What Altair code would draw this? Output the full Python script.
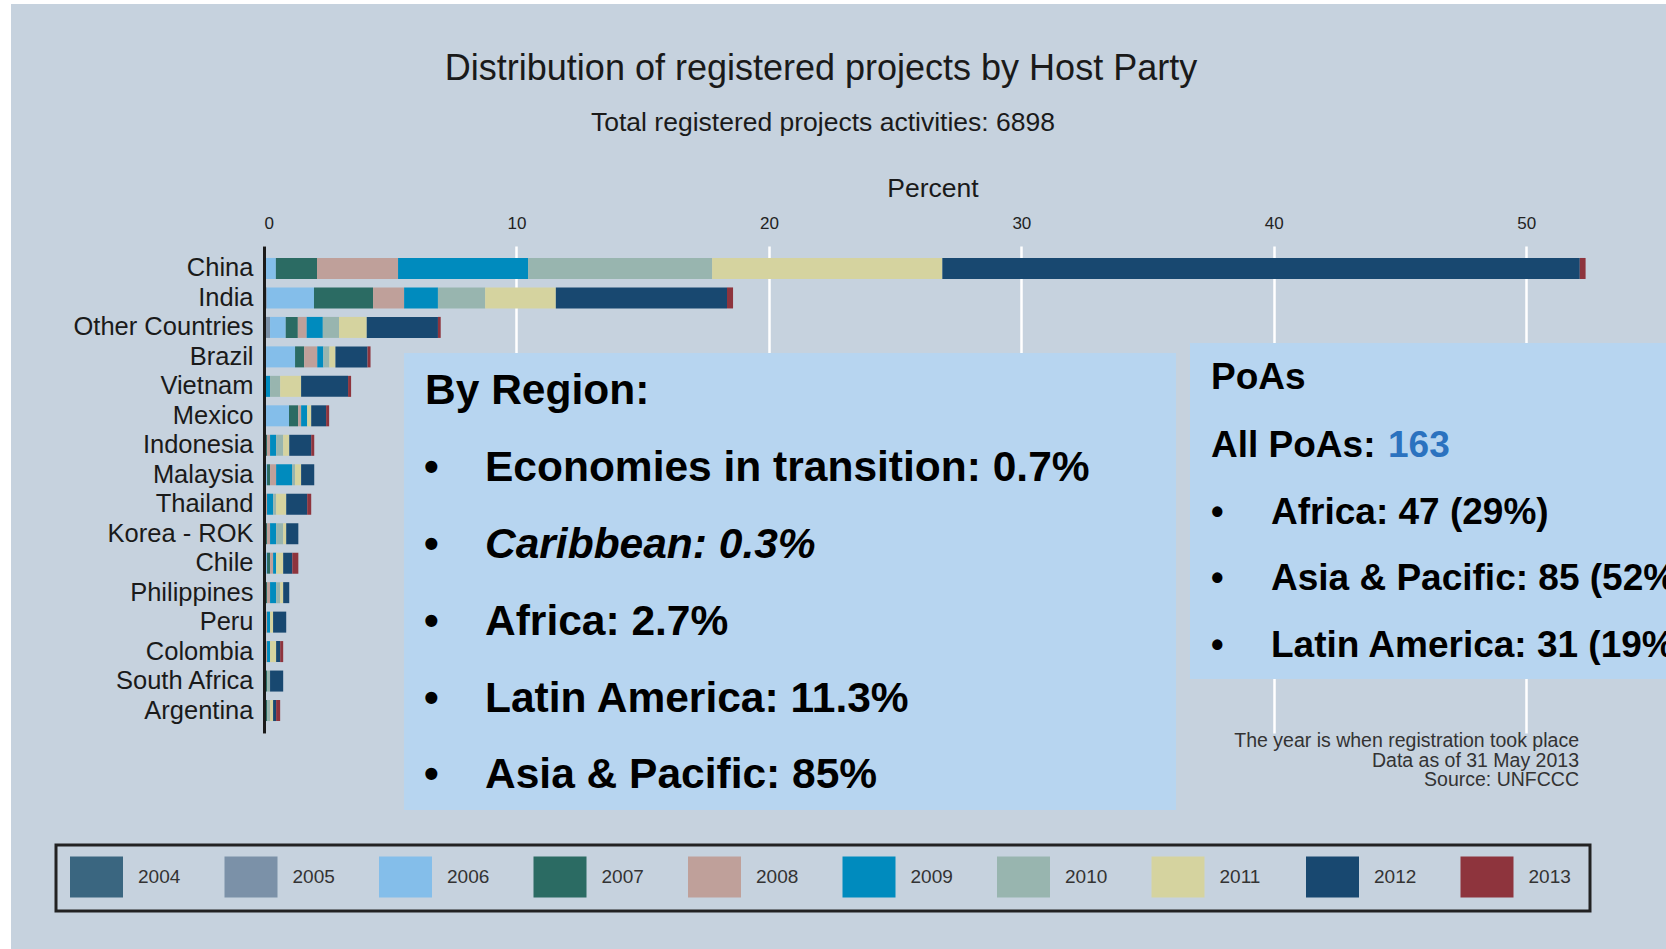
import altair as alt
import pandas as pd

countries = ["China", "India", "Other Countries", "Brazil", "Vietnam", "Mexico",
             "Indonesia", "Malaysia", "Thailand", "Korea - ROK", "Chile",
             "Philippines", "Peru", "Colombia", "South Africa", "Argentina"]
years = ["2004", "2005", "2006", "2007", "2008", "2009", "2010", "2011", "2012", "2013"]

# percent of all registered projects, by registration year
y2004 = [0, 0, 0, 0, 0, 0, 0, 0, 0, 0, 0, 0, 0, 0, 0, 0]
y2005 = [0, 0.11, 0.24, 0, 0, 0, 0, 0, 0, 0, 0, 0, 0, 0, 0, 0]
y2006 = [0.47, 1.87, 0.62, 1.23, 0, 0.99, 0, 0.12, 0, 0, 0.12, 0, 0, 0, 0, 0]
y2007 = [1.63, 2.34, 0.48, 0.36, 0, 0.36, 0.12, 0.12, 0, 0.12, 0.12, 0.12, 0, 0, 0.12, 0.12]
y2008 = [3.21, 1.23, 0.35, 0.52, 0, 0.12, 0.12, 0.24, 0.12, 0.12, 0.12, 0.12, 0.12, 0.12, 0, 0]
y2009 = [5.15, 1.34, 0.64, 0.24, 0.24, 0.24, 0.24, 0.63, 0.24, 0.24, 0.12, 0.24, 0.12, 0.12, 0, 0]
y2010 = [7.29, 1.87, 0.64, 0.24, 0.40, 0, 0.28, 0.12, 0.12, 0.28, 0, 0.16, 0, 0, 0.12, 0.12]
y2011 = [9.12, 2.80, 1.10, 0.24, 0.83, 0.16, 0.24, 0.24, 0.40, 0.12, 0.28, 0.12, 0.12, 0.24, 0, 0.12]
y2012 = [25.25, 6.78, 2.82, 1.27, 1.86, 0.59, 0.87, 0.52, 0.83, 0.48, 0.36, 0.24, 0.52, 0.16, 0.52, 0.12]
y2013 = [0.23, 0.24, 0.11, 0.12, 0.12, 0.12, 0.12, 0, 0.16, 0, 0.24, 0, 0, 0.12, 0, 0.16]
series = [y2004, y2005, y2006, y2007, y2008, y2009, y2010, y2011, y2012, y2013]

colors = ["#3A6680", "#7B91A8", "#84BEEA", "#2B6B63", "#BFA09A",
          "#008BBE", "#98B5AF", "#D5D39F", "#184870", "#8E343D"]

x_ticks = [0, 10, 20, 30, 40, 50]

title_text = "Distribution of registered projects by Host Party"
subtitle_text = "Total registered projects activities: 6898"
notes = ["The year is when registration took place", "Data as of 31 May 2013", "Source: UNFCCC"]
region_head = "By Region:"
region_items = ["Economies in transition: 0.7%", "Caribbean: 0.3%", "Africa: 2.7%",
                "Latin America: 11.3%", "Asia & Pacific: 85%"]
poa_head = "PoAs"
poa_all = "All PoAs: "
poa_total = "163"
poa_items = ["Africa: 47 (29%)", "Asia & Pacific: 85 (52%)", "Latin America: 31 (19%)"]

rows = []
for yr, vals in zip(years, series):
    for c, v in zip(countries, vals):
        if v > 0:
            rows.append({"country": c, "year": yr, "pct": v, "ord": int(yr)})
df = pd.DataFrame(rows)
one = pd.DataFrame({"k": [0]})

W, H = 1338, 487
LEFT, TOP = 264, 246
TOTAL_W, TOTAL_H = 1666, 949
FONT = "Liberation Sans, Arial, sans-serif"
BG = "#C6D2DE"
BOX = "#B7D5F0"

bars = alt.Chart(df).mark_bar().encode(
    x=alt.X("pct:Q", stack="zero",
            scale=alt.Scale(domain=[0, 53], nice=False, zero=True),
            axis=alt.Axis(orient="top", values=x_ticks, title=None, grid=True,
                          gridColor="white", gridWidth=2.5, domain=False, ticks=False,
                          tickSize=0, labelFont=FONT, labelFontSize=17,
                          labelColor="#222", labelPadding=14, format="d", zindex=0)),
    y=alt.Y("country:N", sort=countries,
            scale=alt.Scale(paddingInner=0.287, paddingOuter=0.406),
            axis=alt.Axis(title=None, domain=True, domainColor="#1a1a1a", domainWidth=3,
                          ticks=False, tickSize=0, grid=False, labelFont=FONT,
                          labelFontSize=25.5, labelColor="#1a1a1a", labelPadding=11,
                          labelLimit=400, zindex=1)),
    color=alt.Color("year:N", scale=alt.Scale(domain=years, range=colors),
                    legend=alt.Legend(title=None, orient="none", legendX=-194, legendY=604,
                                      direction="horizontal", columns=10,
                                      symbolType="M-1,-0.774L1,-0.774L1,0.774L-1,0.774Z",
                                      symbolSize=2809, symbolStrokeWidth=0, symbolOpacity=1,
                                      labelFont=FONT, labelFontSize=19, labelColor="#333",
                                      labelOffset=15, columnPadding=43.5, gridAlign="all",
                                      padding=0)),
    order=alt.Order("ord:Q", sort="ascending"),
)


def rect(x, x2, y, y2, **kw):
    return alt.Chart(one).mark_rect(**kw).encode(
        x=alt.value(x), x2=alt.value(x2), y=alt.value(y), y2=alt.value(y2))


def txt(s, x, y, size, weight="normal", style="normal", color="#111", align="left"):
    return alt.Chart(one).mark_text(align=align, baseline="alphabetic", font=FONT,
                                    fontSize=size, fontWeight=weight, fontStyle=style,
                                    color=color).encode(
        x=alt.value(x), y=alt.value(y), text=alt.value(s))


layers = [bars,
          rect(-LEFT, -LEFT + 11, -TOP, TOTAL_H - TOP, color="white"),
          rect(-LEFT, TOTAL_W - LEFT, -TOP, -TOP + 4, color="white"),
          rect(140, 912, 107, 564, color=BOX),
          rect(926, TOTAL_W - LEFT, 97, 433, color=BOX),
          rect(-208, 1326, 599, 665, fillOpacity=0, stroke="#222", strokeWidth=3),
          txt(title_text, 557, -166, 36, color="#1a1a1a", align="center"),
          txt(subtitle_text, 559, -115, 26.5, color="#1a1a1a", align="center"),
          txt("Percent", W / 2, -49, 26.5, color="#1a1a1a", align="center")]

for i, n in enumerate(notes):
    layers.append(txt(n, 1315, [501, 521, 540][i], 19.5, color="#333", align="right"))

layers.append(txt(region_head, 161, 158, 42.5, weight="bold", color="black"))
region_y = [235, 312, 389, 466, 542]
for i, s in enumerate(region_items):
    layers.append(txt("\u2022", 160, region_y[i], 42, weight="bold", color="black"))
    layers.append(txt(s, 221, region_y[i], 42.5, weight="bold",
                      style="italic" if i == 1 else "normal", color="black"))

layers.append(txt(poa_head, 947, 143, 37, weight="bold", color="black"))
layers.append(txt(poa_all, 947, 211, 37, weight="bold", color="black"))
layers.append(txt(poa_total, 1124, 211, 37, weight="bold", color="#2B72BF"))
poa_y = [278, 344, 411]
for i, s in enumerate(poa_items):
    layers.append(txt("\u2022", 947, poa_y[i], 36, weight="bold", color="black"))
    layers.append(txt(s, 1007, poa_y[i], 37, weight="bold", color="black"))

chart = alt.layer(*layers).properties(
    width=W, height=H,
    autosize=alt.AutoSizeParams(type="none"),
    padding={"left": LEFT, "top": TOP, "right": TOTAL_W - LEFT - W, "bottom": TOTAL_H - TOP - H},
    background=BG,
).configure_view(stroke=None)

chart.save("out.html", embed_options={"renderer": "svg", "actions": False})
